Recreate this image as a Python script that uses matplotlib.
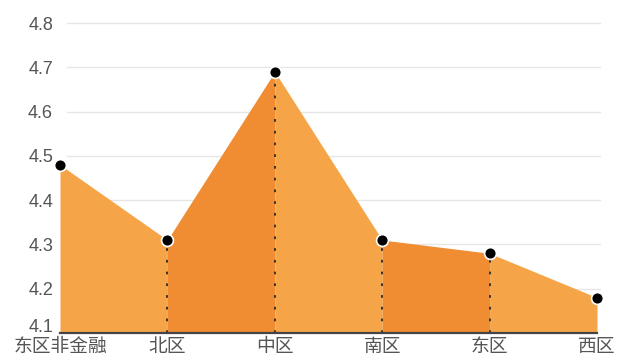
import matplotlib
matplotlib.use("Agg")
import matplotlib.pyplot as plt
import matplotlib.transforms as mtransforms

plt.rcParams['font.family'] = ['Liberation Sans', 'Noto Sans CJK SC', 'DejaVu Sans']

categories = ["东区非金融", "北区", "中区", "南区", "东区", "西区"]
values = [4.48, 4.31, 4.69, 4.31, 4.28, 4.18]
yticks = [4.1, 4.2, 4.3, 4.4, 4.5, 4.6, 4.7, 4.8]

light = "#F5A548"
dark = "#F08C32"

fig = plt.figure(figsize=(6.17, 3.6), dpi=100)
ax = fig.add_axes([60/617, 27/360, 537/617, 310/360])
ymin, ymax = 4.1, 4.8
x = list(range(len(categories)))

for i in range(len(x) - 1):
    col = light if i % 2 == 0 else dark
    ax.fill_between([x[i], x[i+1]], [values[i], values[i+1]], ymin,
                    color=col, linewidth=0, zorder=2)

for i in range(1, len(x) - 1):
    ax.plot([x[i], x[i]], [ymin, values[i]], color="#2a2a2a", linestyle=(0, (1.5, 5)),
            linewidth=1.3, zorder=3)

ax.plot(x, values, linestyle="none", marker="o", markersize=8.5,
        markerfacecolor="black", markeredgecolor="white", markeredgewidth=1.2,
        zorder=5, clip_on=False)

ax.set_xlim(0, len(x) - 1)
ax.set_ylim(ymin, ymax)
ax.set_yticks(yticks)
ax.set_yticklabels([f"{t:.1f}" for t in yticks])
ax.set_xticks(x)
ax.set_xticklabels(categories)
for y in yticks[1:]:
    ax.axhline(y, xmin=7/537, xmax=1.005, color="#e6e6e6", linewidth=1, zorder=1, clip_on=False)

for s in ["top", "right", "left"]:
    ax.spines[s].set_visible(False)
ax.spines["bottom"].set_color("#444444")
ax.spines["bottom"].set_linewidth(1.6)
ax.spines["bottom"].set_zorder(6)
ax.tick_params(axis="y", length=0, labelsize=13, labelcolor="#555555", pad=5)
ax.tick_params(axis="x", length=0, labelsize=13.5, labelcolor="#555555", pad=4)

# nudge the lowest y label up so it clears the first category label
lbl = ax.get_yticklabels()[0]
lbl.set_verticalalignment("bottom")
lbl.set_transform(lbl.get_transform() + mtransforms.ScaledTranslation(0, -3/100, fig.dpi_scale_trans))

fig.savefig("out.png", dpi=100)
